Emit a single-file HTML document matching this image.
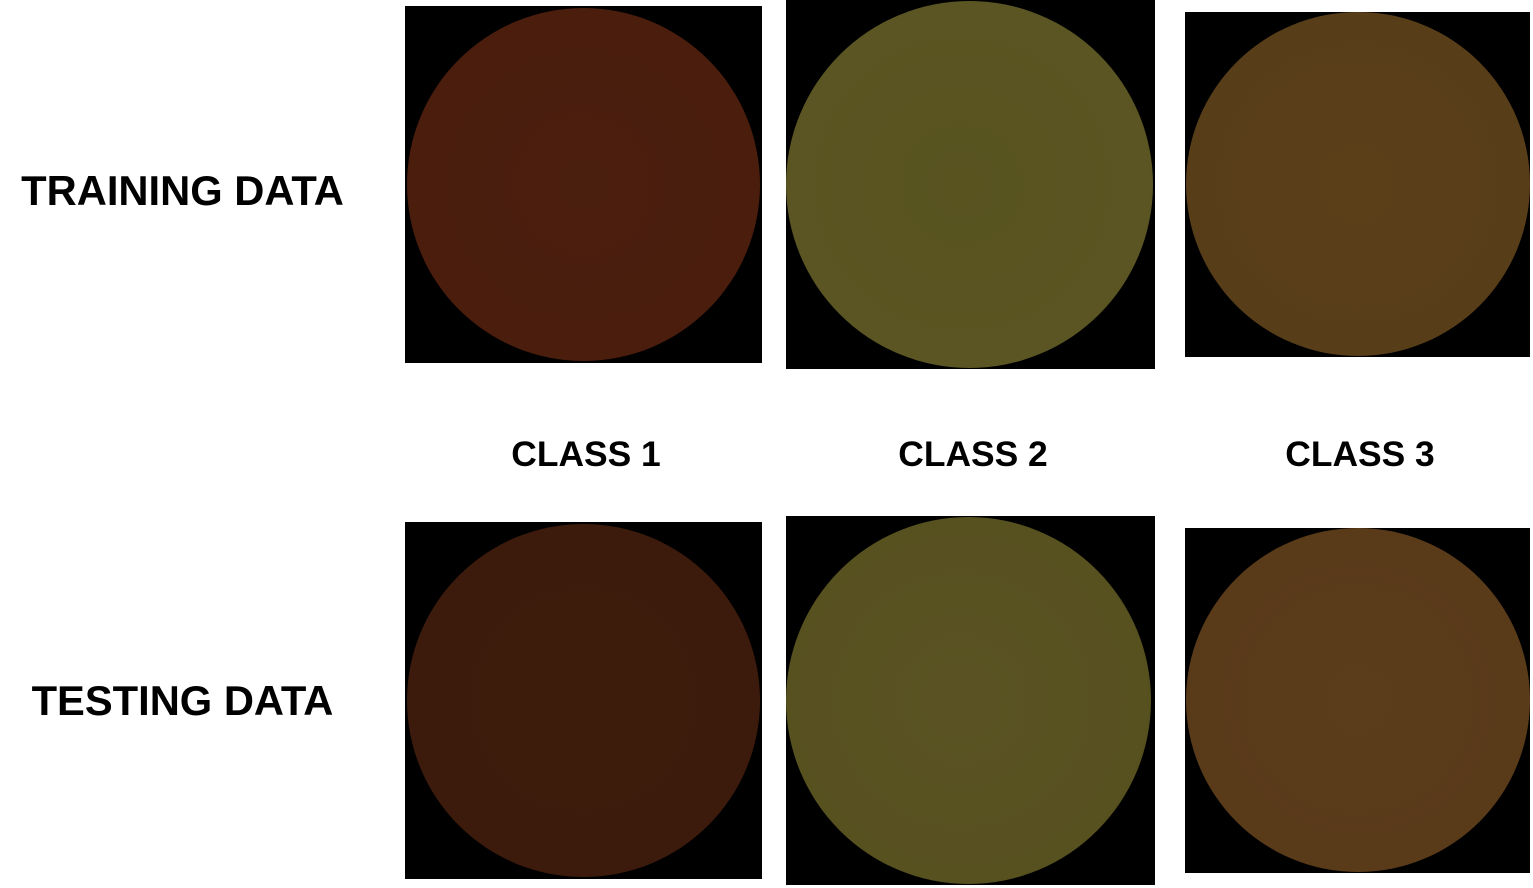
<!DOCTYPE html>
<html><head><meta charset="utf-8"><style>
html,body{margin:0;padding:0;background:#fff;width:1533px;height:888px;overflow:hidden;position:relative;font-family:"Liberation Sans",Arial,sans-serif}
.lbl{position:absolute;font-weight:bold;color:#000;text-align:center;white-space:nowrap}
.img{position:absolute;background:#000;overflow:hidden}
.img .c{position:absolute;border-radius:50%}
</style></head><body>
<div class="lbl" style="left:0;width:365px;top:167px;font-size:41.7px">TRAINING DATA</div>
<div class="lbl" style="left:0;width:365px;top:677px;font-size:41.7px">TESTING DATA</div>
<div class="lbl" style="left:486px;width:200px;top:434px;font-size:35.4px">CLASS 1</div>
<div class="lbl" style="left:873px;width:200px;top:434px;font-size:35.4px">CLASS 2</div>
<div class="lbl" style="left:1260px;width:200px;top:434px;font-size:35.4px">CLASS 3</div>

<div class="img" style="left:405px;top:6px;width:357px;height:357px"><div class="c" style="left:2px;top:2px;width:353px;height:353px;background:radial-gradient(circle at 50% 50%,#4b1f0e,#4a1d0d 70%,#43200f)"></div></div>
<div class="img" style="left:786px;top:0;width:369px;height:369px"><div class="c" style="left:0;top:1px;width:367px;height:367px;background:radial-gradient(circle at 48% 50%,#58531f,#5a5522 70%,#4f4d22)"></div></div>
<div class="img" style="left:1185px;top:12px;width:345px;height:345px"><div class="c" style="left:1px;top:0;width:344px;height:344px;background:radial-gradient(circle,#5a3f19,#583d19 70%,#513a18)"></div></div>

<div class="img" style="left:405px;top:522px;width:357px;height:357px"><div class="c" style="left:2px;top:2px;width:353px;height:353px;background:radial-gradient(circle,#3e1c0c,#3d1b0c 70%,#3a1c0d)"></div></div>
<div class="img" style="left:786px;top:516px;width:369px;height:369px"><div class="c" style="left:0;top:1px;width:365px;height:367px;background:radial-gradient(circle at 48% 50%,#5a5222,#57501f 70%,#4a4a22)"></div></div>
<div class="img" style="left:1185px;top:528px;width:345px;height:345px"><div class="c" style="left:1px;top:0;width:344px;height:344px;background:radial-gradient(circle,#5b3c1b,#593a19 70%,#523818)"></div></div>
</body></html>
